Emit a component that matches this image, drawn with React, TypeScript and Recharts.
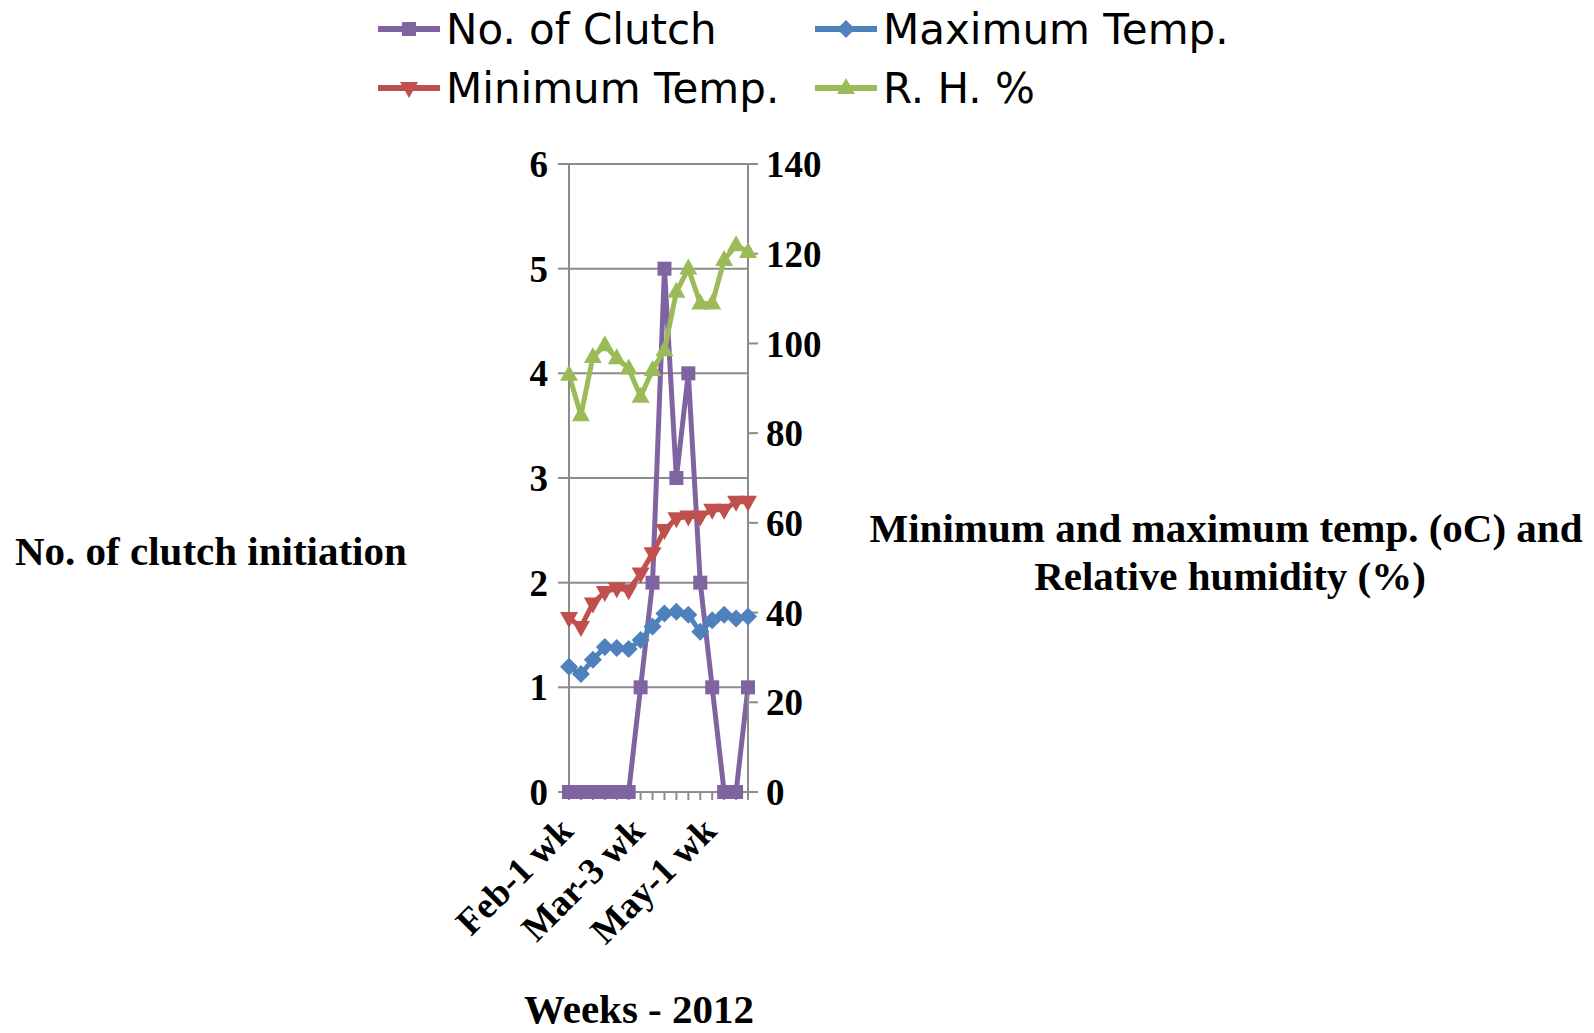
import { CartesianGrid, Label, Line, LineChart, XAxis, YAxis } from "recharts";

const weeks = [
  "Feb-1 wk", "Feb-2 wk", "Feb-3 wk", "Feb-4 wk",
  "Mar-1 wk", "Mar-2 wk", "Mar-3 wk", "Mar-4 wk",
  "Apr-1 wk", "Apr-2 wk", "Apr-3 wk", "Apr-4 wk",
  "May-1 wk", "May-2 wk", "May-3 wk", "May-4 wk",
];
const clutches = [0, 0, 0, 0, 0, 0, 1, 2, 5, 3, 4, 2, 1, 0, 0, 1];
const maxTemp = [27.9, 26.3, 29.5, 32.3, 32.1, 31.9, 33.9, 36.9, 39.8, 40.2, 39.5, 35.7, 38.3, 39.5, 38.7, 39.1];
const minTemp = [38.8, 36.8, 42, 44.6, 45.4, 45, 48.7, 53.2, 58.4, 61, 61.4, 61.4, 62.9, 62.9, 64.7, 64.7];
const humidity = [93, 84, 97, 99.6, 96.7, 94.4, 88.1, 94.1, 98.5, 111.5, 116.7, 108.9, 108.9, 118.6, 121.9, 120.4];

const leftTicks = [0, 1, 2, 3, 4, 5, 6];
const rightTicks = [0, 20, 40, 60, 80, 100, 120, 140];

const data = weeks.map((week, i) => ({
  week,
  clutch: clutches[i],
  max: maxTemp[i],
  min: minTemp[i],
  rh: humidity[i],
}));

const PURPLE = "#8064A2";
const BLUE = "#4F81BD";
const RED = "#C0504D";
const GREEN = "#9BBB59";
const GRID = "#8c8c8c";
const SERIF = "'Liberation Serif', 'Times New Roman', serif";

function marker(kind: string, cx: number, cy: number, color: string, key?: string) {
  if (kind === "square") {
    return <rect key={key} x={cx - 7} y={cy - 7} width={14} height={14} fill={color} />;
  }
  if (kind === "diamond") {
    return <polygon key={key} points={`${cx},${cy - 9} ${cx + 9},${cy} ${cx},${cy + 9} ${cx - 9},${cy}`} fill={color} />;
  }
  if (kind === "down") {
    return <polygon key={key} points={`${cx - 9},${cy - 6} ${cx + 9},${cy - 6} ${cx},${cy + 10}`} fill={color} />;
  }
  return <polygon key={key} points={`${cx - 9},${cy + 6} ${cx + 9},${cy + 6} ${cx},${cy - 10}`} fill={color} />;
}

const dotFor = (kind: string, color: string) => (props: any) =>
  marker(kind, props.cx, props.cy, color, `${kind}-${props.index}`);

const WeekTick = (props: any) => {
  const { x, y, payload, index } = props;
  if (index % 6 !== 0) return <g />;
  const ax = x + 6;
  const ay = y + 31;
  return (
    <text
      x={ax}
      y={ay}
      transform={`rotate(-45, ${ax}, ${ay})`}
      textAnchor="end"
      fill="#000"
      fontSize={37}
      fontWeight="bold"
      fontFamily={SERIF}
    >
      {payload.value}
    </text>
  );
};

const legendItems = [
  { name: "No. of Clutch", color: PURPLE, kind: "square", left: 378, top: 0 },
  { name: "Maximum Temp.", color: BLUE, kind: "diamond", left: 815, top: 0 },
  { name: "Minimum Temp.", color: RED, kind: "down", left: 378, top: 59 },
  { name: "R. H. %", color: GREEN, kind: "up", left: 815, top: 59 },
];

function ChartLegend() {
  return (
    <>
      {legendItems.map((item) => (
        <div
          key={item.name}
          style={{
            position: "absolute",
            left: item.left,
            top: item.top,
            height: 58,
            display: "flex",
            alignItems: "center",
            fontFamily: "'DejaVu Sans', sans-serif",
            fontSize: 42,
            color: "#000",
            whiteSpace: "nowrap",
          }}
        >
          <svg width={62} height={34} style={{ marginRight: 6 }}>
            <line x1={0} y1={17} x2={62} y2={17} stroke={item.color} strokeWidth={6} />
            {marker(item.kind, 31, 17, item.color)}
          </svg>
          {item.name}
        </div>
      ))}
    </>
  );
}

const titleStyle = { fill: "#000", fontSize: 41, fontWeight: "bold" as const, fontFamily: SERIF };

export default function App() {
  return (
    <div style={{ position: "absolute", left: 0, top: 0, width: 1594, height: 1033, background: "#fff" }}>
      <ChartLegend />
      <LineChart
        width={1594}
        height={1033}
        data={data}
        margin={{ top: 164, right: 766, bottom: 91, left: 509 }}
      >
        <CartesianGrid yAxisId="left" vertical={false} stroke={GRID} strokeWidth={2} />
        <XAxis
          dataKey="week"
          height={150}
          interval={0}
          tick={<WeekTick />}
          tickSize={8}
          axisLine={{ stroke: GRID, strokeWidth: 2 }}
          tickLine={{ stroke: GRID, strokeWidth: 2 }}
        >
          <Label
            content={() => (
              <text x={639} y={1023} textAnchor="middle" {...titleStyle}>
                Weeks - 2012
              </text>
            )}
          />
        </XAxis>
        <YAxis
          yAxisId="left"
          width={60}
          domain={[0, 6]}
          ticks={leftTicks}
          tickSize={11}
          tickMargin={10}
          axisLine={{ stroke: GRID, strokeWidth: 2 }}
          tickLine={{ stroke: GRID, strokeWidth: 2 }}
          tick={{ fill: "#000", fontSize: 37, fontWeight: "bold", fontFamily: SERIF }}
        >
          <Label
            content={() => (
              <text x={15} y={565} textAnchor="start" {...titleStyle}>
                No. of clutch initiation
              </text>
            )}
          />
        </YAxis>
        <YAxis
          yAxisId="right"
          orientation="right"
          width={80}
          domain={[0, 140]}
          ticks={rightTicks}
          tickSize={10}
          tickMargin={8}
          axisLine={{ stroke: GRID, strokeWidth: 2 }}
          tickLine={{ stroke: GRID, strokeWidth: 2 }}
          tick={{ fill: "#000", fontSize: 37, fontWeight: "bold", fontFamily: SERIF }}
        >
          <Label
            content={() => (
              <text textAnchor="middle" {...titleStyle}>
                <tspan x={1226} y={542}>Minimum and maximum temp. (oC) and</tspan>
                <tspan x={1230} y={590}>Relative humidity (%)</tspan>
              </text>
            )}
          />
        </YAxis>
        <Line
          yAxisId="left"
          dataKey="clutch"
          name="No. of Clutch"
          stroke={PURPLE}
          strokeWidth={5}
          dot={dotFor("square", PURPLE)}
          activeDot={false}
          isAnimationActive={false}
        />
        <Line
          yAxisId="right"
          dataKey="max"
          name="Maximum Temp."
          stroke={BLUE}
          strokeWidth={5}
          dot={dotFor("diamond", BLUE)}
          activeDot={false}
          isAnimationActive={false}
        />
        <Line
          yAxisId="right"
          dataKey="min"
          name="Minimum Temp."
          stroke={RED}
          strokeWidth={5}
          dot={dotFor("down", RED)}
          activeDot={false}
          isAnimationActive={false}
        />
        <Line
          yAxisId="right"
          dataKey="rh"
          name="R. H. %"
          stroke={GREEN}
          strokeWidth={5}
          dot={dotFor("up", GREEN)}
          activeDot={false}
          isAnimationActive={false}
        />
      </LineChart>
    </div>
  );
}
